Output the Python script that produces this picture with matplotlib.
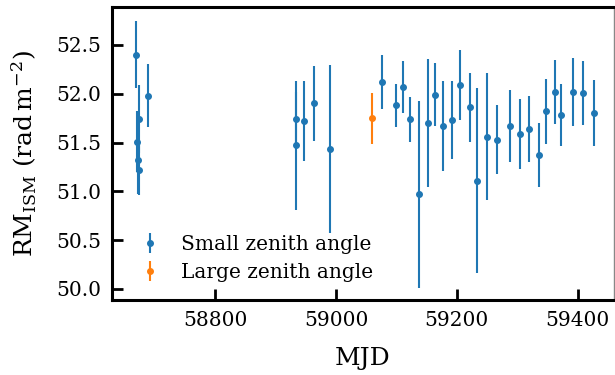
import numpy as np
import matplotlib
matplotlib.use('Agg')
import matplotlib.pyplot as plt

plt.rcParams['font.family'] = 'DejaVu Serif'
plt.rcParams['mathtext.fontset'] = 'dejavuserif'

# RM measurements, small zenith angle
mjd_small = [58669, 58671, 58672, 58673, 58674, 58688,
             58933, 58934, 58947, 58963, 58990,
             59076, 59100, 59111, 59123, 59138, 59152, 59164, 59178, 59192,
             59206, 59222, 59234, 59250, 59266, 59288, 59305, 59319, 59336,
             59347, 59362, 59373, 59393, 59409, 59427]
rm_small = [52.40, 51.51, 51.32, 51.22, 51.74, 51.98,
            51.47, 51.74, 51.72, 51.90, 51.43,
            52.12, 51.88, 52.07, 51.74, 50.97, 51.70, 51.99, 51.67, 51.73,
            52.09, 51.86, 51.11, 51.56, 51.53, 51.67, 51.59, 51.64, 51.37,
            51.82, 52.02, 51.78, 52.02, 52.01, 51.80]
err_small = [0.34, 0.31, 0.35, 0.26, 0.35, 0.32,
             0.66, 0.28, 0.41, 0.38, 0.86,
             0.28, 0.22, 0.27, 0.23, 0.96, 0.66, 0.32, 0.46, 0.40,
             0.36, 0.35, 0.95, 0.65, 0.35, 0.37, 0.36, 0.34, 0.33,
             0.33, 0.33, 0.32, 0.35, 0.33, 0.34]

# large zenith angle
mjd_large = [59060]
rm_large = [51.75]
err_large = [0.26]

fig = plt.figure(figsize=(6.15, 3.75), dpi=100)
ax = fig.add_axes([0.182, 0.2, 0.816, 0.781])

ax.errorbar(mjd_small, rm_small, yerr=err_small, fmt='o', ms=4,
            color='#1f77b4', label='Small zenith angle')
ax.errorbar(mjd_large, rm_large, yerr=err_large, fmt='o', ms=4,
            color='#ff7f0e', label='Large zenith angle')

ax.set_xlim(58629, 59460)
ax.set_ylim(49.887, 52.887)
ax.set_xticks([58800, 59000, 59200, 59400])
ax.set_yticks(np.arange(50.0, 52.6, 0.5))

ax.tick_params(direction='in', length=8, width=2, labelsize=14.5, pad=8)
for s in ['left', 'bottom', 'top']:
    ax.spines[s].set_linewidth(2.2)
ax.spines['right'].set_linewidth(1.0)
ax.spines['right'].set_color('#888888')

ax.set_xlabel('MJD', fontsize=18, labelpad=12)
ax.set_ylabel(r'RM$_{\rm ISM}$ (rad$\,$m$^{-2}$)', fontsize=18, labelpad=12)

ax.legend(loc='lower left', frameon=False, fontsize=14.5,
          handletextpad=0.55, borderaxespad=0.5, labelspacing=0.45)

fig.savefig('out.png', dpi=100)
